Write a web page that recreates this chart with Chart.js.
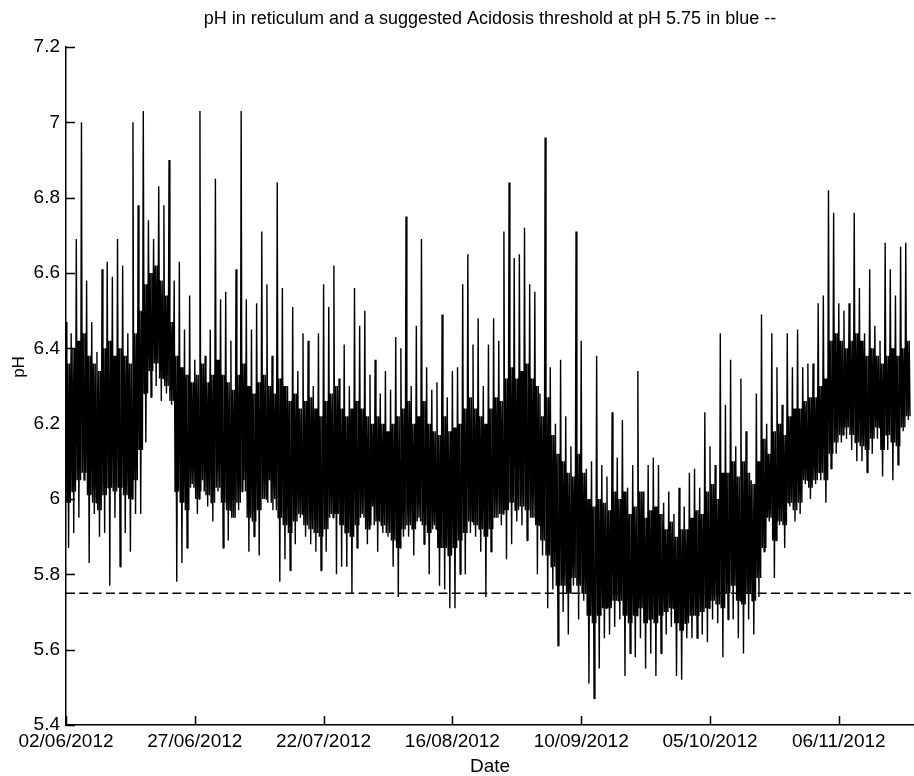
<!DOCTYPE html>
<html>
<head>
<meta charset="utf-8">
<script src="https://cdn.jsdelivr.net/npm/chart.js@4.4.1/dist/chart.umd.min.js"></script>
<style>
html,body{margin:0;padding:0;background:#fff;}
#wrap{width:914px;height:776px;position:relative;}
</style>
</head>
<body>
<div id="wrap"><canvas id="c"></canvas></div>
<script>
const chartTitle = 'pH in reticulum and a suggested Acidosis threshold at pH 5.75 in blue --';
const xTitle = 'Date';
const yTitle = 'pH';

// x tick positions (day index along the record) and their labels
const tickDays = [0, 25, 50, 75, 100, 125, 150];
const tickLabels = ['02/06/2012', '27/06/2012', '22/07/2012', '16/08/2012', '10/09/2012', '05/10/2012', '06/11/2012'];

const yTicks = [5.4, 5.6, 5.8, 6.0, 6.2, 6.4, 6.6, 6.8, 7.0, 7.2];
const yTickLabels = ['5.4', '5.6', '5.8', '6', '6.2', '6.4', '6.6', '6.8', '7', '7.2'];

const threshold = 5.75;
const recordEnd = 164;

// daily maximum pH readings (spike tops)
const dailyHigh = [
  6.47,6.44,6.69,7.00,6.58,6.47,6.39,6.61,6.63,6.59,
  6.69,6.62,6.44,7.00,6.78,7.03,6.74,6.69,6.83,6.78,
  6.90,6.58,6.63,6.45,6.54,6.37,7.03,6.38,6.45,6.85,
  6.53,6.55,6.42,6.61,7.03,6.53,6.45,6.52,6.71,6.57,
  6.38,6.84,6.56,6.30,6.51,6.34,6.44,6.42,6.30,6.44,
  6.57,6.51,6.62,6.32,6.41,6.30,6.56,6.46,6.50,6.33,
  6.37,6.28,6.34,6.29,6.43,6.40,6.75,6.30,6.46,6.69,
  6.35,6.29,6.31,6.49,6.27,6.34,6.35,6.57,6.65,6.41,
  6.48,6.30,6.41,6.48,6.42,6.71,6.84,6.64,6.65,6.72,
  6.57,6.55,6.28,6.96,6.35,6.20,6.37,6.22,6.14,6.71,
  6.42,6.08,6.10,6.38,6.09,6.06,6.23,6.11,6.21,6.03,
  6.09,6.34,6.02,6.09,6.11,6.09,5.99,6.02,5.96,6.03,
  5.98,6.07,6.08,6.03,6.23,6.14,6.09,6.44,6.25,6.37,
  6.14,6.32,6.18,6.05,6.28,6.49,6.20,6.44,6.35,6.25,
  6.44,6.35,6.45,6.35,6.36,6.36,6.52,6.54,6.82,6.76,
  6.52,6.50,6.52,6.76,6.56,6.44,6.61,6.46,6.42,6.68,
  6.61,6.54,6.67,6.68
];

// daily minimum pH readings (spike bottoms)
const dailyLow = [
  5.87,5.91,5.95,6.05,5.83,5.96,5.90,5.91,5.77,5.95,
  5.82,5.91,5.86,5.96,5.96,6.15,6.27,6.30,6.26,6.28,
  6.25,5.78,5.83,5.87,6.04,5.96,6.05,5.98,5.94,6.02,
  5.87,5.89,5.95,5.97,6.05,5.86,5.90,5.85,6.00,6.05,
  6.00,5.78,5.84,5.81,5.88,5.95,5.90,5.88,5.86,5.81,
  5.86,5.96,5.80,5.82,5.82,5.75,5.87,5.96,5.88,5.98,
  5.86,5.91,5.90,5.82,5.74,5.90,5.90,5.85,5.95,5.88,
  5.80,5.93,5.77,5.76,5.71,5.71,5.80,5.80,5.91,5.90,
  5.86,5.74,5.86,5.95,5.93,5.84,5.88,5.94,5.93,5.89,
  5.95,5.80,5.85,5.71,5.76,5.61,5.70,5.64,5.77,5.68,
  5.73,5.51,5.47,5.55,5.63,5.64,5.66,5.68,5.53,5.59,
  5.58,5.63,5.55,5.59,5.53,5.59,5.64,5.66,5.53,5.52,
  5.63,5.63,5.63,5.64,5.62,5.68,5.67,5.58,5.68,5.68,
  5.63,5.59,5.68,5.64,5.74,5.86,5.94,5.79,5.93,5.87,
  5.98,5.94,5.96,6.04,6.00,6.04,6.05,5.99,6.08,6.12,
  6.15,6.16,6.13,6.10,6.10,6.07,6.12,6.16,6.06,6.13,
  6.05,6.09,6.18,6.21
];

// upper edge of the dense daily band
const coreTop = [
  6.36,6.40,6.42,6.44,6.38,6.36,6.34,6.40,6.42,6.38,
  6.40,6.38,6.36,6.44,6.50,6.57,6.60,6.62,6.58,6.54,
  6.47,6.38,6.35,6.33,6.31,6.33,6.36,6.31,6.33,6.37,
  6.33,6.31,6.29,6.33,6.36,6.30,6.28,6.31,6.33,6.30,
  6.28,6.32,6.30,6.26,6.28,6.24,6.26,6.27,6.24,6.22,
  6.26,6.28,6.30,6.24,6.22,6.24,6.26,6.24,6.22,6.20,
  6.22,6.20,6.18,6.20,6.22,6.24,6.26,6.20,6.22,6.26,
  6.20,6.18,6.17,6.22,6.18,6.19,6.20,6.24,6.27,6.24,
  6.22,6.20,6.24,6.27,6.26,6.32,6.35,6.32,6.34,6.36,
  6.32,6.30,6.22,6.27,6.17,6.12,6.10,6.07,6.06,6.12,
  6.07,6.00,5.98,6.00,5.99,5.97,6.02,6.00,6.02,5.96,
  5.98,6.02,5.95,5.97,5.98,5.96,5.92,5.94,5.90,5.92,
  5.92,5.95,5.97,5.96,6.02,6.04,6.00,6.07,6.07,6.10,
  6.06,6.10,6.07,6.04,6.10,6.16,6.12,6.18,6.20,6.17,
  6.22,6.24,6.24,6.26,6.27,6.27,6.30,6.32,6.42,6.44,
  6.42,6.40,6.42,6.44,6.42,6.38,6.40,6.38,6.36,6.38,
  6.40,6.38,6.40,6.42
];

// lower edge of the dense daily band
const coreBottom = [
  5.99,6.02,6.05,6.07,6.01,5.99,5.97,6.01,6.03,6.02,
  6.03,6.01,6.00,6.05,6.13,6.28,6.34,6.36,6.32,6.30,
  6.26,6.02,5.99,5.97,6.03,6.00,6.02,6.01,5.99,6.03,
  5.99,5.97,5.95,5.99,6.02,5.95,5.94,5.97,6.00,5.99,
  5.97,5.95,5.93,5.91,5.94,5.96,5.93,5.92,5.91,5.90,
  5.92,5.95,5.96,5.93,5.91,5.90,5.93,5.95,5.92,5.93,
  5.94,5.93,5.91,5.89,5.87,5.92,5.93,5.92,5.94,5.93,
  5.91,5.92,5.87,5.87,5.85,5.87,5.89,5.91,5.94,5.93,
  5.92,5.90,5.92,5.95,5.96,5.97,5.99,5.97,5.98,5.97,
  5.95,5.93,5.89,5.85,5.82,5.77,5.77,5.75,5.79,5.77,
  5.75,5.69,5.67,5.69,5.71,5.71,5.73,5.73,5.69,5.67,
  5.69,5.71,5.67,5.68,5.67,5.69,5.70,5.71,5.67,5.65,
  5.67,5.69,5.69,5.70,5.71,5.73,5.72,5.71,5.75,5.77,
  5.73,5.72,5.75,5.73,5.79,5.87,5.95,5.89,5.94,5.93,
  5.99,5.97,5.99,6.05,6.03,6.05,6.07,6.05,6.12,6.15,
  6.17,6.19,6.17,6.15,6.14,6.13,6.16,6.19,6.13,6.17,
  6.15,6.14,6.19,6.22
];

// build the series: each day = spike top, band, spike bottom, band
const phPoints = [];
dailyHigh.forEach((h, k) => {
  const seq = [h, coreBottom[k], coreTop[k], dailyLow[k], coreTop[k], coreBottom[k]];
  seq.forEach((v, j) => phPoints.push({x: k + j / seq.length, y: v}));
});
const thresholdPoints = [{x: 0, y: threshold}, {x: recordEnd, y: threshold}];

const FONT = '"Liberation Sans", Arial, Helvetica, sans-serif';

const decorPlugin = {
  id: 'decor',
  afterDraw(chart) {
    const {ctx, chartArea: a, scales: {x, y}} = chart;
    ctx.save();
    ctx.strokeStyle = '#000';
    ctx.lineWidth = 1.5;
    ctx.beginPath();
    y.ticks.forEach(t => {
      const py = Math.round(y.getPixelForValue(t.value)) + 0.5;
      ctx.moveTo(a.left, py); ctx.lineTo(a.left + 9, py);
    });
    x.ticks.forEach(t => {
      const px = Math.round(x.getPixelForValue(t.value)) + 0.5;
      ctx.moveTo(px, a.bottom); ctx.lineTo(px, a.bottom - 9);
    });
    ctx.stroke();
    ctx.fillStyle = '#000';
    ctx.font = '18px ' + FONT;
    ctx.textAlign = 'center';
    ctx.textBaseline = 'middle';
    ctx.fillText(chartTitle, (a.left + a.right) / 2, 19);
    // y axis title
    ctx.font = '17px ' + FONT;
    ctx.translate(19, 367);
    ctx.rotate(-Math.PI / 2);
    ctx.fillText(yTitle, 0, 0);
    ctx.restore();
  }
};

new Chart(document.getElementById('c'), {
  type: 'line',
  data: {
    datasets: [
      {
        data: phPoints,
        borderColor: '#000',
        borderWidth: 1.4,
        borderJoinStyle: 'bevel',
        pointRadius: 0,
        tension: 0,
        fill: false
      },
      {
        data: thresholdPoints,
        borderColor: '#000',
        borderWidth: 1.5,
        borderDash: [9, 4.3],
        pointRadius: 0,
        tension: 0,
        fill: false
      }
    ]
  },
  options: {
    responsive: true,
    maintainAspectRatio: false,
    animation: false,
    events: [],
    layout: {padding: {top: 47, left: 0, right: 0, bottom: 0}},
    plugins: {legend: {display: false}, tooltip: {enabled: false}, title: {display: false}},
    scales: {
      x: {
        type: 'linear',
        min: 0,
        max: 164.6,
        grid: {display: false, drawTicks: false},
        border: {display: true, color: '#000', width: 1.5},
        afterBuildTicks: s => { s.ticks = tickDays.map(v => ({value: v})); },
        afterFit: s => { s.height = 51; },
        ticks: {
          autoSkip: false, maxRotation: 0, minRotation: 0,
          color: '#000', padding: 5,
          font: {family: FONT, size: 19},
          callback: (v, i) => tickLabels[i]
        },
        title: {display: true, text: xTitle, color: '#000', font: {family: FONT, size: 19, lineHeight: 1}, padding: {top: 0, bottom: 0}}
      },
      y: {
        type: 'linear',
        min: 5.4,
        max: 7.2,
        grid: {display: false, drawTicks: false},
        border: {display: true, color: '#000', width: 1.5},
        afterBuildTicks: s => { s.ticks = yTicks.map(v => ({value: v})); },
        afterFit: s => { s.width = 66; },
        ticks: {
          color: '#000', padding: 6,
          font: {family: FONT, size: 19},
          callback: (v, i) => yTickLabels[i]
        },
        title: {display: false}
      }
    }
  },
  plugins: [decorPlugin]
});
</script>
</body>
</html>
